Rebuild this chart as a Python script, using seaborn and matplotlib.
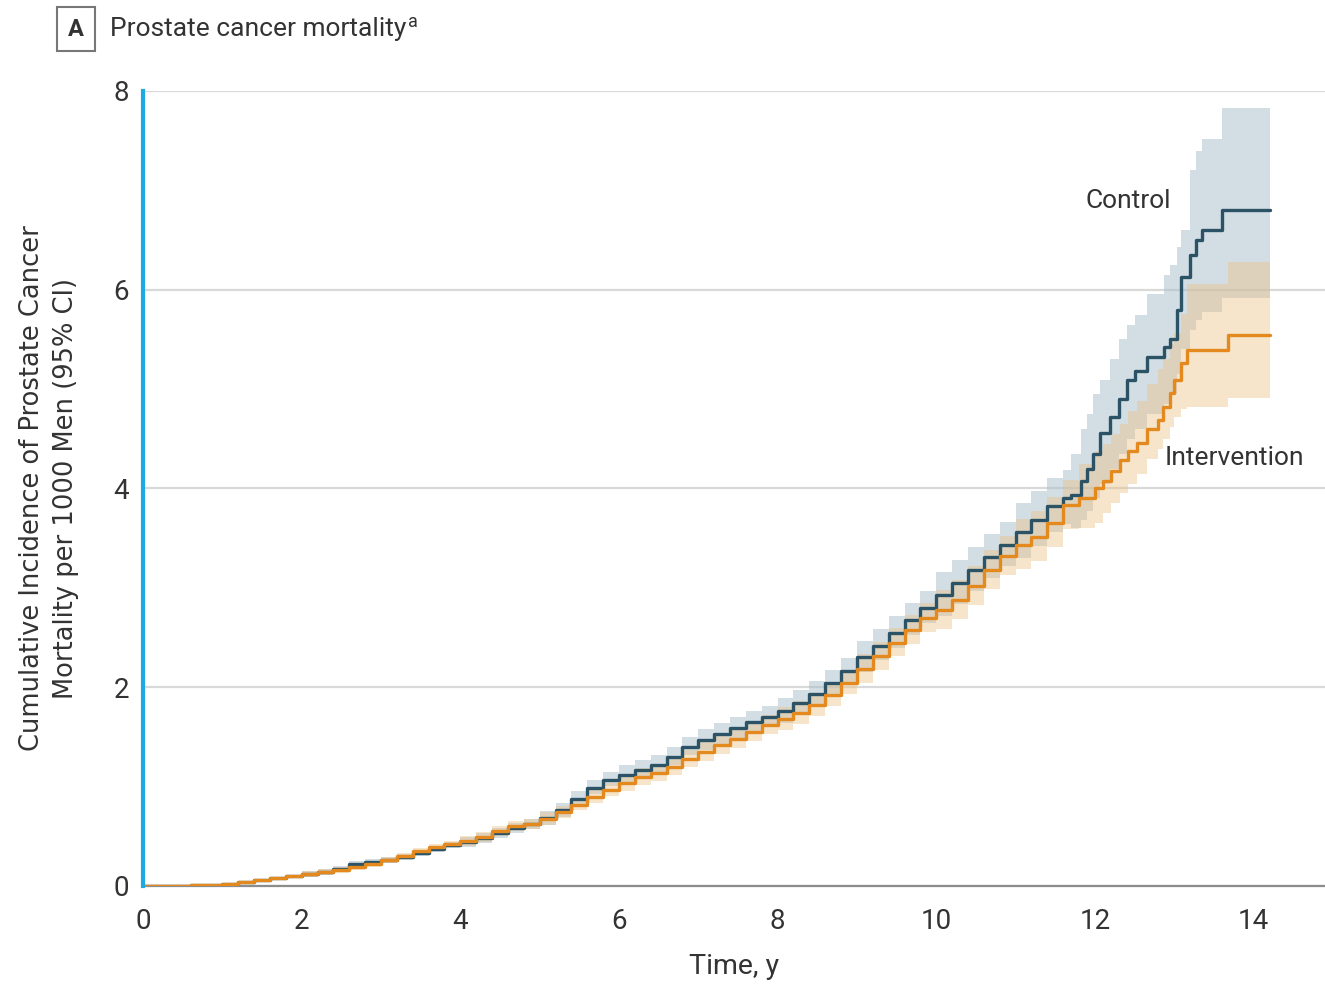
import numpy as np
import pandas as pd
import matplotlib
matplotlib.use("Agg")
import matplotlib.pyplot as plt
import seaborn as sns

# ---- data ----
# Control arm: time (y), cumulative incidence per 1000, 95% CI bounds
control_t = [0.0, 0.2, 0.4, 0.6, 0.8, 1.0, 1.2, 1.4, 1.6, 1.8, 2.0, 2.2, 2.4, 2.6, 2.8, 3.0,
             3.2, 3.4, 3.6, 3.8, 4.0, 4.2, 4.4, 4.6, 4.8, 5.0, 5.2, 5.4, 5.6, 5.8, 6.0, 6.2,
             6.4, 6.6, 6.8, 7.0, 7.2, 7.4, 7.6, 7.8, 8.0, 8.2, 8.4, 8.6, 8.8, 9.0, 9.2, 9.4,
             9.6, 9.8, 10.0, 10.2, 10.4, 10.6, 10.8, 11.0, 11.2, 11.4, 11.6,
             11.7, 11.82, 11.9, 11.98, 12.07, 12.19, 12.3, 12.4, 12.5, 12.66, 12.87, 12.95,
             13.04, 13.08, 13.2, 13.27, 13.35, 13.6, 14.21]
control_v = [0, 0.002, 0.005, 0.008, 0.015, 0.025, 0.04, 0.06, 0.08, 0.10, 0.12, 0.14, 0.17,
             0.22, 0.24, 0.26, 0.29, 0.33, 0.37, 0.41, 0.44, 0.48, 0.53, 0.58, 0.62, 0.68,
             0.76, 0.88, 0.99, 1.07, 1.12, 1.17, 1.22, 1.30, 1.40, 1.47, 1.53, 1.59, 1.65,
             1.70, 1.76, 1.84, 1.93, 2.04, 2.16, 2.30, 2.42, 2.55, 2.68, 2.80, 2.93, 3.05,
             3.18, 3.31, 3.43, 3.56, 3.68, 3.82, 3.90,
             3.93, 4.08, 4.2, 4.35, 4.56, 4.72, 4.9, 5.09, 5.18, 5.32, 5.42, 5.5,
             5.8, 6.13, 6.35, 6.5, 6.6, 6.8, 6.8]
control_hi = [0, 0.007, 0.01, 0.013, 0.02, 0.03, 0.055, 0.075, 0.095, 0.115, 0.155, 0.175,
              0.205, 0.255, 0.275, 0.295, 0.325, 0.365, 0.405, 0.445, 0.495, 0.535, 0.585,
              0.635, 0.675, 0.755, 0.835, 0.955, 1.065, 1.145, 1.215, 1.265, 1.315, 1.395,
              1.495, 1.58, 1.64, 1.70, 1.76, 1.81, 1.89, 1.97, 2.06, 2.17, 2.29, 2.47, 2.59,
              2.72, 2.85, 2.97, 3.16, 3.28, 3.41, 3.54, 3.66, 3.85, 3.97, 4.11, 4.19,
              4.35, 4.6, 4.75, 4.95, 5.09, 5.3, 5.5, 5.65, 5.75, 5.96, 6.15, 6.25,
              6.43, 6.6, 7.2, 7.4, 7.52, 7.83, 7.83]
control_lo = [0, 0, 0.002, 0.005, 0.012, 0.022, 0.03, 0.05, 0.07, 0.09, 0.09, 0.11, 0.14,
              0.19, 0.21, 0.23, 0.26, 0.30, 0.34, 0.38, 0.395, 0.435, 0.485, 0.535, 0.575,
              0.615, 0.695, 0.815, 0.925, 1.005, 1.035, 1.085, 1.135, 1.215, 1.315, 1.37,
              1.43, 1.49, 1.55, 1.60, 1.64, 1.72, 1.81, 1.92, 2.04, 2.15, 2.27, 2.40, 2.53,
              2.65, 2.72, 2.84, 2.97, 3.10, 3.22, 3.30, 3.42, 3.56, 3.64,
              3.6, 3.68, 3.77, 3.9, 4.05, 4.2, 4.35, 4.5, 4.6, 4.75, 4.85, 4.95,
              5.15, 5.4, 5.6, 5.7, 5.78, 5.92, 5.92]

# Intervention arm
interv_t = [0.0, 0.2, 0.4, 0.6, 0.8, 1.0, 1.2, 1.4, 1.6, 1.8, 2.0, 2.2, 2.4, 2.6, 2.8, 3.0,
            3.2, 3.4, 3.6, 3.8, 4.0, 4.2, 4.4, 4.6, 4.8, 5.0, 5.2, 5.4, 5.6, 5.8, 6.0, 6.2,
            6.4, 6.6, 6.8, 7.0, 7.2, 7.4, 7.6, 7.8, 8.0, 8.2, 8.4, 8.6, 8.8, 9.0, 9.2, 9.4,
            9.6, 9.8, 10.0, 10.2, 10.4, 10.6, 10.8, 11.0, 11.2, 11.4, 11.6,
            11.8, 12.0, 12.1, 12.2, 12.32, 12.42, 12.53, 12.66, 12.8, 12.86, 12.95, 13.0,
            13.08, 13.16, 13.68, 14.21]
interv_v = [0, 0.002, 0.005, 0.008, 0.015, 0.025, 0.04, 0.06, 0.08, 0.10, 0.12, 0.14, 0.16,
            0.19, 0.22, 0.26, 0.30, 0.35, 0.39, 0.42, 0.45, 0.49, 0.55, 0.60, 0.62, 0.67,
            0.74, 0.82, 0.90, 0.97, 1.04, 1.10, 1.14, 1.20, 1.28, 1.35, 1.42, 1.48, 1.55,
            1.62, 1.68, 1.74, 1.82, 1.92, 2.04, 2.18, 2.31, 2.45, 2.58, 2.70, 2.78, 2.88,
            3.02, 3.18, 3.32, 3.43, 3.51, 3.65, 3.83,
            3.9, 4.0, 4.08, 4.18, 4.29, 4.38, 4.46, 4.6, 4.69, 4.82, 4.96, 5.09,
            5.26, 5.39, 5.54, 5.54]
interv_hi = [0, 0.007, 0.01, 0.013, 0.02, 0.03, 0.055, 0.075, 0.095, 0.115, 0.155, 0.175,
             0.195, 0.225, 0.255, 0.295, 0.335, 0.385, 0.425, 0.455, 0.50, 0.54, 0.60, 0.65,
             0.67, 0.74, 0.81, 0.89, 0.97, 1.04, 1.125, 1.185, 1.225, 1.285, 1.365, 1.45,
             1.52, 1.58, 1.65, 1.72, 1.80, 1.86, 1.94, 2.04, 2.16, 2.33, 2.46, 2.60, 2.73,
             2.85, 2.98, 3.08, 3.22, 3.38, 3.52, 3.69, 3.77, 3.91, 4.09,
             4.25, 4.38, 4.45, 4.55, 4.65, 4.78, 4.88, 5.05, 5.2, 5.3, 5.45, 5.56,
             5.76, 6.06, 6.28, 6.28]
interv_lo = [0, 0, 0.002, 0.005, 0.012, 0.022, 0.03, 0.05, 0.07, 0.09, 0.09, 0.11, 0.13,
             0.16, 0.19, 0.23, 0.27, 0.32, 0.36, 0.39, 0.405, 0.445, 0.505, 0.555, 0.575,
             0.61, 0.68, 0.76, 0.84, 0.91, 0.96, 1.02, 1.06, 1.12, 1.20, 1.255, 1.325,
             1.385, 1.455, 1.525, 1.57, 1.63, 1.71, 1.81, 1.93, 2.04, 2.17, 2.31, 2.44,
             2.56, 2.59, 2.69, 2.83, 2.99, 3.13, 3.19, 3.27, 3.41, 3.59,
             3.6, 3.65, 3.75, 3.85, 3.95, 4.05, 4.15, 4.3, 4.4, 4.5, 4.62, 4.72,
             4.8, 4.82, 4.91, 4.91]

groups = ["Control", "Intervention"]
x_ticks = list(range(0, 15))
x_ticklabels = [str(v) if v % 2 == 0 else "" for v in x_ticks]
y_ticks = [0, 2, 4, 6, 8]

# ---- style ----
sns.set_theme(style="white")
plt.rcParams["font.family"] = ["Roboto", "DejaVu Sans"]

C_CTRL = "#2B5365"
C_INT = "#E3891E"
TXT = "#333333"

fig = plt.figure(figsize=(13.25, 9.86), dpi=100)
ax = fig.add_axes([143 / 1325, 100 / 986, (1325 - 143) / 1325, (886 - 91) / 986])

# CI bands
ax.fill_between(control_t, control_lo, control_hi, step="post",
                color="#A7BDCB", alpha=0.5, linewidth=0, zorder=1)
ax.fill_between(interv_t, interv_lo, interv_hi, step="post",
                color="#EDC283", alpha=0.42, linewidth=0, zorder=2)

df = pd.concat([
    pd.DataFrame({"t": control_t, "v": control_v, "group": groups[0]}),
    pd.DataFrame({"t": interv_t, "v": interv_v, "group": groups[1]}),
])
sns.lineplot(data=df, x="t", y="v", hue="group", palette={groups[0]: C_CTRL, groups[1]: C_INT},
             estimator=None, drawstyle="steps-post", linewidth=2.4, legend=False, ax=ax,
             zorder=4)

ax.set_xlim(0, 14.9)
ax.set_ylim(0, 8)
ax.set_xticks(x_ticks)
ax.set_xticklabels(x_ticklabels)
ax.set_yticks(y_ticks)
ax.set_yticklabels([str(v) for v in y_ticks])
ax.yaxis.grid(True, color="#D9D9D9", linewidth=1.6, zorder=0)
ax.xaxis.grid(False)
ax.set_axisbelow(True)

for s in ["top", "right"]:
    ax.spines[s].set_visible(False)
ax.spines["left"].set_color("#1DA9E1")
ax.spines["left"].set_linewidth(3)
ax.spines["bottom"].set_color("#8C8C8C")
ax.spines["bottom"].set_linewidth(1.6)
ax.spines["left"].set_zorder(5)

ax.tick_params(axis="x", direction="out", length=9, width=1.3, color="#8C8C8C",
               labelsize=20, labelcolor=TXT, pad=7)
ax.tick_params(axis="y", direction="out", length=5, width=2.5, color="#1DA9E1",
               labelsize=20, labelcolor=TXT, pad=5)

ax.set_xlabel("Time, y", fontsize=20.5, color=TXT, labelpad=13)
ax.set_ylabel("Cumulative Incidence of Prostate Cancer\nMortality per 1000 Men (95% CI)",
              fontsize=18.5, color=TXT, labelpad=25, family=["DejaVu Sans"], linespacing=1.4)

ax.text(12.42, 6.89, "Control", fontsize=19, color=TXT, ha="center", va="center", zorder=6)
ax.text(13.76, 4.31, "Intervention", fontsize=19, color=TXT, ha="center", va="center",
        zorder=6)

# panel title
fig.text(76 / 1325, 1 - 29 / 986, "A", fontsize=17, fontweight="bold", color=TXT,
         ha="center", va="center",
         bbox=dict(boxstyle="square,pad=0.45", facecolor="white", edgecolor="#777777",
                   linewidth=1.5))
t = fig.text(110 / 1325, 1 - 29 / 986, "Prostate cancer mortality", fontsize=19, color=TXT,
             ha="left", va="center")
fig.canvas.draw()
bb = t.get_window_extent(renderer=fig.canvas.get_renderer())
fig.text(bb.x1 / 1325 + 0.001, 1 - 22 / 986, "a", fontsize=13, color=TXT, ha="left",
         va="center")

fig.savefig("out.png", dpi=100)
